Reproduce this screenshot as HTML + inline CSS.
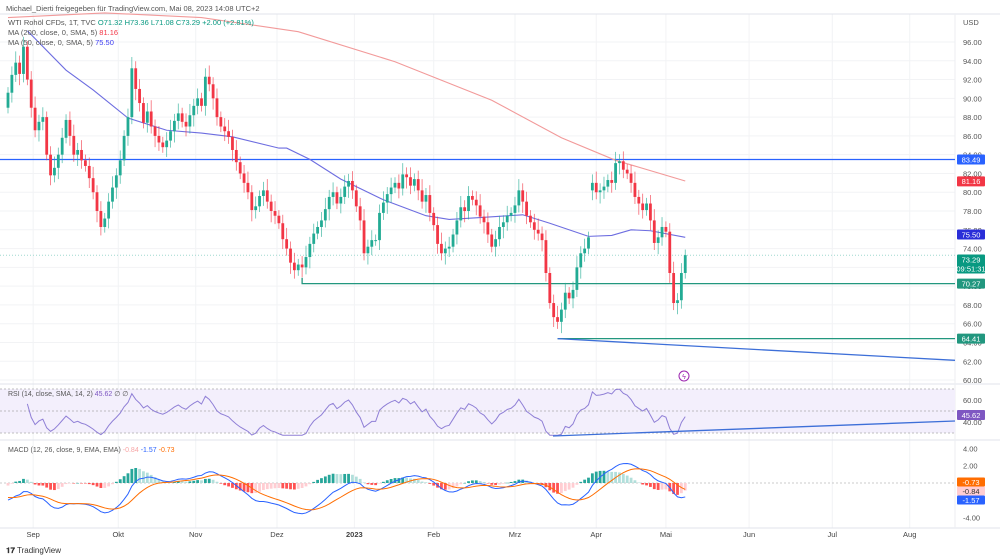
<!DOCTYPE html>
<html><head><meta charset="utf-8">
<style>
html,body{margin:0;padding:0;background:#fff;width:1000px;height:560px;overflow:hidden;font-family:"Liberation Sans",sans-serif}
svg text{font-family:"Liberation Sans",sans-serif}
</style></head>
<body>
<svg id="c" width="1000" height="560" viewBox="0 0 1000 560">
  <g id="grid"></g>
  <g id="axes"></g>
  <g id="main"></g>
  <g id="rsi"></g>
  <g id="macd"></g>
  <g id="labels"></g>
</svg>
<script>
const closes=[90.6,92.5,93.8,92.6,95.5,92.0,89.0,86.6,87.5,88.0,84.0,81.8,82.6,84.0,85.8,87.7,86.0,84.0,84.5,83.4,
82.8,81.5,80.0,78.0,76.3,77.2,79.0,80.5,81.8,83.4,86.0,88.0,93.2,91.0,89.5,87.4,88.6,87.0,86.0,85.3,
84.8,85.5,86.5,87.6,88.4,87.5,87.0,88.2,89.2,90.0,89.2,92.3,91.5,90.0,88.0,87.0,86.5,85.9,84.5,83.2,
82.0,81.0,80.0,78.1,78.5,79.6,80.2,79.0,78.0,77.5,76.7,75.0,74.0,72.5,71.7,72.3,72.0,73.1,74.5,75.6,
76.3,77.0,78.2,79.5,80.0,78.8,79.5,80.6,81.2,80.2,78.5,77.0,73.5,74.2,74.9,74.9,77.8,78.9,79.8,80.5,
81.0,80.4,81.9,81.6,80.7,81.4,80.2,79.0,79.7,77.8,76.5,74.5,73.5,74.0,74.2,75.5,77.0,78.4,78.0,79.6,
79.2,78.6,77.4,76.8,75.5,74.2,75.0,76.3,76.8,77.5,77.8,78.6,80.2,79.0,77.5,76.8,76.0,75.6,74.9,71.4,
68.2,66.7,66.2,67.5,69.3,68.7,69.6,72.0,73.5,74.0,75.2,81.0,80.0,80.2,80.6,81.3,81.0,83.1,83.3,82.4,
82.0,81.0,79.5,78.8,78.1,78.8,77.0,74.6,75.2,76.3,75.8,71.4,68.2,68.5,71.4,73.3];
const gapBars=[151];
const ma50Bars=[5,15,22,31,41,50,58,70,72,78,86,97,108,114,122,133,140,150,156,161,166,175];
const ma50Vals=[97.2,93.0,90.9,87.9,86.6,86.3,85.9,84.7,84.7,83.5,81.4,79.2,77.5,77.1,77.3,77.6,76.7,75.3,75.4,76.0,75.9,75.2];
const ma200Bars=[0,25,50,75,100,125,143,157,175];
const ma200Vals=[98.6,99.1,98.6,97.1,93.9,89.8,85.8,83.4,81.2];
const priceTicks=[96,94,92,90,88,86,84,82,80,78,76,74,72,70,68,66,64,62,60];
const rsiTicks=[60,40];
const macdTicks=[4,2,-4];
const months=["Sep","Okt","Nov","Dez","2023","Feb","Mrz","Apr","Mai","Jun","Jul","Aug"];
const monthBars=[6.5,28.5,48.5,69.5,89.5,110,131,152,170,191.5,213,233];

const NS="http://www.w3.org/2000/svg";
function mk(tag,attrs,parent,name,inter){const e=document.createElementNS(NS,tag);for(const k in attrs)e.setAttribute(k,attrs[k]);


parent.appendChild(e);return e;}
const bx=i=>8+i*3.87;
const py=p=>42+(96-p)*9.39;
const ry=v=>411-(v-50)*1.1;
const my=v=>483-v*8.65;
const G=id=>document.getElementById(id);
const grid=G('grid'),axes=G('axes'),main=G('main'),rsiG=G('rsi'),macdG=G('macd'),lab=G('labels');

// grid
priceTicks.forEach(t=>{mk('line',{x1:0,x2:955,y1:py(t),y2:py(t),stroke:'#f2f3f5','stroke-width':1},grid,'price-gridline',false);});
monthBars.forEach(b=>{mk('line',{x1:bx(b),x2:bx(b),y1:14,y2:528,stroke:'#f2f3f5','stroke-width':1},grid,'time-gridline',false);});
// pane separators
[14,384,440,528].forEach(y=>mk('line',{x1:0,x2:1000,y1:y,y2:y,stroke:'#e0e3eb','stroke-width':1},axes,'pane-separator',false));
mk('line',{x1:955,x2:955,y1:14,y2:528,stroke:'#eceef2','stroke-width':1},axes,'price-axis-border',false);

// header
const t1=mk('text',{x:6,y:11,'font-size':7.5,fill:'#555'},lab,'share-caption',false);t1.textContent='Michael_Dierti freigegeben für TradingView.com, Mai 08, 2023 14:08 UTC+2';
const l1=mk('text',{x:8,y:25,'font-size':7.5,fill:'#555'},lab,'symbol-legend',false);
l1.innerHTML='WTI Rohöl CFDs, 1T, TVC  <tspan fill="#089981">O71.32  H73.36  L71.08  C73.29  +2.00 (+2.81%)</tspan>';
const l2=mk('text',{x:8,y:35,'font-size':7.5,fill:'#555'},lab,'ma200-legend',false);l2.innerHTML='MA (200, close, 0, SMA, 5)  <tspan fill="#f23645">81.16</tspan>';
const l3=mk('text',{x:8,y:45,'font-size':7.5,fill:'#555'},lab,'ma50-legend',false);l3.innerHTML='MA (50, close, 0, SMA, 5)  <tspan fill="#3d3df0">75.50</tspan>';

// price axis
const u=mk('text',{x:963,y:25,'font-size':7.5,fill:'#555'},lab,'currency-label',false);u.textContent='USD';
priceTicks.forEach(t=>{const e=mk('text',{x:963,y:py(t)+3,'font-size':7.5,fill:'#555'},lab,'price-tick',false);e.textContent=t.toFixed(2);});

// horizontal levels
mk('line',{x1:0,x2:955,y1:py(83.49),y2:py(83.49),stroke:'#2962ff','stroke-width':1.3},main,'resistance-line',true);
mk('line',{x1:0,x2:955,y1:py(73.29),y2:py(73.29),stroke:'#9fd8cf','stroke-width':1,'stroke-dasharray':'1 2'},main,'last-price-line',false);
mk('polyline',{points:`${bx(76)},${py(70.9)} ${bx(76)},${py(70.27)} 955,${py(70.27)}`,fill:'none',stroke:'#22977f','stroke-width':1.3},main,'support-line-70',true);
mk('polyline',{points:`${bx(142)},${py(64.41)} 955,${py(64.41)}`,fill:'none',stroke:'#22977f','stroke-width':1.3},main,'support-line-64',true);
mk('line',{x1:bx(142),y1:py(64.41),x2:955,y2:py(62.1),stroke:'#3d6fd8','stroke-width':1.3},main,'trend-line',true);

// MAs
mk('polyline',{points:ma200Bars.map((b,i)=>bx(b)+','+py(ma200Vals[i])).join(' '),fill:'none',stroke:'#f29a9a','stroke-width':1.1},main,'ma200-line',false);
mk('polyline',{points:ma50Bars.map((b,i)=>bx(b)+','+py(ma50Vals[i])).join(' '),fill:'none',stroke:'#6d6de0','stroke-width':1.1},main,'ma50-line',false);

// candles
closes.forEach((c,i)=>{
  const o=i===0?89.0:(gapBars.includes(i)?c-0.8:closes[i-1]);
  const up=c>=o;const col=up?'#22ab94':'#f23645';
  const h=Math.max(o,c)+0.6+((i*7)%5)*0.15, l=Math.min(o,c)-0.6-((i*3)%5)*0.15;
  mk('line',{x1:bx(i),x2:bx(i),y1:py(h),y2:py(l),stroke:col,'stroke-width':0.8,opacity:0.75},main,'candle-wick',false);
  const top=py(Math.max(o,c)),bot=py(Math.min(o,c));
  mk('rect',{x:bx(i)-1.4,y:top,width:2.8,height:Math.max(1,bot-top),fill:col},main,'candle',true);
});
// lightning icon
mk('circle',{cx:684,cy:376,r:5,fill:'#fff',stroke:'#9c27b0','stroke-width':1},main,'event-icon',true);
const ev=mk('text',{x:684,y:379,'font-size':7,fill:'#9c27b0','text-anchor':'middle'},main,'event-glyph',false);ev.textContent='ϟ';

// RSI
mk('rect',{x:0,y:ry(70),width:955,height:ry(30)-ry(70),fill:'#f3effc'},rsiG,'rsi-band',false);
[70,50,30].forEach(v=>mk('line',{x1:0,x2:955,y1:ry(v),y2:ry(v),stroke:'#aaa','stroke-width':0.8,'stroke-dasharray':'2 2'},rsiG,'rsi-level',false));
rsiTicks.forEach(t=>{const e=mk('text',{x:963,y:ry(t)+3,'font-size':7.5,fill:'#555'},lab,'rsi-tick',false);e.textContent=t.toFixed(2);});
let ag=0,al=0;const rsiV=[];
for(let i=1;i<closes.length;i++){const d=closes[i]-closes[i-1];const g=Math.max(d,0),l=Math.max(-d,0);
 if(i<=14){ag+=g/14;al+=l/14;}else{ag=(ag*13+g)/14;al=(al*13+l)/14;}
 rsiV[i]=al===0?100:100-100/(1+ag/al);}
const rpts=[];for(let i=5;i<closes.length;i++)rpts.push(bx(i)+','+ry(Math.max(28,Math.min(72,rsiV[i]))));
mk('polyline',{points:rpts.join(' '),fill:'none',stroke:'#8f7fd6','stroke-width':1},rsiG,'rsi-line',false);
mk('line',{x1:553,y1:436,x2:955,y2:421,stroke:'#3d6fd8','stroke-width':1.3},rsiG,'rsi-trend-line',true);
const rl=mk('text',{x:8,y:396,'font-size':7,fill:'#555'},lab,'rsi-legend',false);rl.innerHTML='RSI (14, close, SMA, 14, 2)  <tspan fill="#7e57c2">45.62</tspan>  ∅  ∅';

// MACD
mk('line',{x1:0,x2:955,y1:my(0),y2:my(0),stroke:'#bbb','stroke-width':0.8,'stroke-dasharray':'2 2'},macdG,'macd-zero',false);
macdTicks.forEach(t=>{const e=mk('text',{x:963,y:my(t)+3,'font-size':7.5,fill:'#555'},lab,'macd-tick',false);e.textContent=t.toFixed(2);});
function ema(arr,n,seed){const k=2/(n+1);let e=seed;return arr.map(v=>e=v*k+e*(1-k));}
const e12=ema(closes,12,closes[0]+1.5),e26=ema(closes,26,closes[0]+3.5);
const macdV=e12.map((v,i)=>v-e26[i]);const sigV=ema(macdV,9,-1.6);
macdV.forEach((m,i)=>{const h=m-sigV[i];const prev=i?macdV[i-1]-sigV[i-1]:h;
  const col=h>=0?(h>=prev?'#26a69a':'#b2dfdb'):(h<prev?'#ff5252':'#ffcdd2');
  const y0=my(0),y1=my(h);
  mk('rect',{x:bx(i)-1.4,y:Math.min(y0,y1),width:2.8,height:Math.max(0.5,Math.abs(y1-y0)),fill:col},macdG,'macd-histogram-bar',false);});
mk('polyline',{points:macdV.map((v,i)=>bx(i)+','+my(v)).join(' '),fill:'none',stroke:'#2962ff','stroke-width':1},macdG,'macd-line',false);
mk('polyline',{points:sigV.map((v,i)=>bx(i)+','+my(v)).join(' '),fill:'none',stroke:'#ff6d00','stroke-width':1},macdG,'signal-line',false);
const ml=mk('text',{x:8,y:452,'font-size':7,fill:'#555'},lab,'macd-legend',false);
ml.innerHTML='MACD (12, 26, close, 9, EMA, EMA)  <tspan fill="#f7a5a5">-0.84</tspan>  <tspan fill="#2962ff">-1.57</tspan>  <tspan fill="#ff6d00">-0.73</tspan>';

// badges
function badge(y,txt,bg,fg,h,name){mk('rect',{x:957,y:y-h/2,width:28,height:h,fill:bg,rx:1},lab,name,false);
  const lines=txt.split('|');lines.forEach((s,k)=>{const e=mk('text',{x:971,y:y-(lines.length-1)*4.5+k*9+2.8,'font-size':7.5,fill:fg,'text-anchor':'middle'},lab,name+'-text',false);e.textContent=s;});}
badge(py(83.49),'83.49','#2962ff','#fff',10,'badge-83-49');
badge(py(81.16),'81.16','#f23645','#fff',10,'badge-ma200');
badge(py(75.50),'75.50','#2a2ed8','#fff',10,'badge-ma50');
badge(264,'73.29|09:51:31','#089981','#fff',19,'badge-last-price');
badge(py(70.27),'70.27','#22977f','#fff',10,'badge-70-27');
badge(py(64.41),'64.41','#22977f','#fff',10,'badge-64-41');
badge(415,'45.62','#7e57c2','#fff',10,'badge-rsi');
badge(482,'-0.73','#ff6d00','#fff',9,'badge-signal');
badge(491,'-0.84','#ffcdd2','#333',9,'badge-histogram');
badge(500,'-1.57','#2962ff','#fff',9,'badge-macd');

// time axis
months.forEach((m,i)=>{const e=mk('text',{x:bx(monthBars[i]),y:537,'font-size':7.5,fill:'#444','text-anchor':'middle','font-weight':m==='2023'?'bold':'normal'},lab,'time-tick',false);e.textContent=m;});
const tv=mk('text',{x:6,y:553,'font-size':8,fill:'#333'},lab,'tradingview-logo',false);tv.innerHTML='<tspan font-weight="bold">𝟏𝟕</tspan> TradingView';
</script>
</body></html>
